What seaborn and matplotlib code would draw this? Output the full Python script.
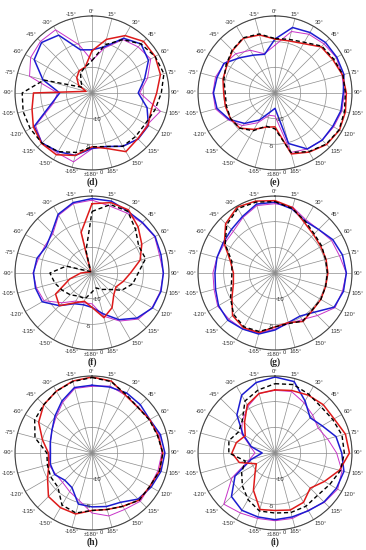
import numpy as np
import matplotlib
matplotlib.use("Agg")
import matplotlib.pyplot as plt
import seaborn as sns

sns.set_theme(style="white")
plt.rcParams['font.family'] = ['Liberation Sans', 'DejaVu Sans']

# angles every 15 deg, clockwise from top; values in dB (-15 .. 0)
angles_deg = np.arange(0, 360, 15)
tick_labels = ['0°'] + ['%d°' % a for a in range(15, 180, 15)] + ['±180°'] + \
              ['-%d°' % (360 - a) for a in range(195, 360, 15)]
r_ticks = [-10, -5, 0]

# (d)
d_black = [-8.7, -5.3, -3.0, -1.5, -0.8, -0.5, -1.5, -2.3, -3.0, -3.0, -3.0, -4.2,
           -4.5, -3.0, -1.8, -1.2, -1.1, -1.1, -1.4, -5.3, -12.8, -12.0, -10.5, -9.8]
d_red = [-6.8, -4.2, -2.1, -0.8, -0.8, -1.2, -2.4, -3.0, -2.4, -2.4, -1.8, -3.8,
         -4.5, -2.4, -1.1, -1.1, -1.8, -2.9, -3.6, -13.8, -12.0, -10.8, -10.0, -9.8]
d_blue = [-6.6, -5.7, -2.7, -1.5, -2.3, -4.4, -6.0, -3.9, -2.3, -2.3, -3.0, -4.2,
          -4.2, -2.4, -1.8, -1.2, -2.0, -6.8, -8.7, -5.1, -2.0, -1.1, -2.0, -6.3]
d_mag = [-8.7, -6.0, -3.0, -2.3, -1.8, -3.8, -5.7, -1.2, -2.6, -2.3, -3.0, -4.2,
         -4.1, -1.1, -1.5, -1.2, -2.3, -7.2, -8.3, -2.4, -1.2, -0.8, -0.8, -5.3]

# (e)
e_black = [-4.4, -4.2, -3.6, -2.1, -1.8, -1.3, -1.3, -1.0, -0.6, -0.9, -1.8, -3.0,
           -8.0, -8.3, -6.5, -5.3, -5.0, -5.2, -5.3, -4.7, -4.0, -3.2, -2.6, -3.1]
e_red = [-4.5, -4.5, -3.9, -2.3, -2.0, -1.4, -1.1, -0.8, -0.5, -0.8, -1.7, -2.7,
         -8.4, -8.1, -6.8, -5.3, -5.0, -5.0, -5.0, -4.5, -4.2, -3.3, -2.7, -3.3]
e_blue = [-4.5, -1.8, -1.4, -1.1, -1.1, -1.1, -1.7, -1.7, -2.0, -2.0, -2.4, -4.8,
          -12.0, -11.1, -8.9, -6.6, -4.7, -3.3, -3.0, -3.3, -3.5, -5.3, -6.5, -7.2]
e_mag = [-5.7, -2.6, -1.8, -1.5, -1.2, -1.5, -1.5, -1.5, -1.8, -2.0, -2.4, -3.0,
         -10.5, -10.5, -8.3, -6.0, -4.5, -3.0, -2.9, -3.0, -3.6, -4.2, -5.4, -7.1]

# (f)
f_black = [-3.0, -1.2, -1.1, -3.0, -4.5, -4.2, -6.0, -6.8, -8.3, -10.5, -11.3, -12.0,
           -11.3, -9.8, -9.8, -9.0, -8.3, -7.5, -6.8, -9.8, -14.3, -14.6, -14.3, -10.5]
f_red = [-1.5, -0.8, -0.8, -2.3, -3.8, -5.3, -7.5, -8.7, -9.6, -9.0, -7.2, -6.0,
         -8.3, -9.3, -8.3, -6.0, -6.8, -10.5, -12.8, -14.3, -14.6, -14.6, -14.3, -6.8]
f_blue = [-0.5, -0.5, -1.1, -1.1, -0.8, -1.1, -1.1, -1.1, -1.4, -2.6, -4.5, -6.8,
          -8.3, -8.6, -8.1, -6.0, -3.8, -3.6, -3.6, -3.9, -4.7, -3.9, -1.8, -0.8]
f_mag = [-0.8, -1.5, -1.5, -1.2, -0.9, -1.4, -1.1, -1.2, -1.5, -2.3, -4.2, -6.3,
         -9.0, -9.0, -8.7, -6.8, -4.2, -3.8, -3.5, -4.2, -4.4, -4.2, -2.0, -1.0]

# (g)
g_black = [-1.1, -2.0, -3.3, -4.2, -4.5, -4.8, -4.8, -4.8, -4.7, -4.8, -4.2, -4.8,
           -4.5, -3.2, -2.9, -3.6, -5.0, -6.2, -6.6, -6.3, -3.8, -1.7, -0.5, -0.7]
g_red = [-0.9, -1.8, -3.6, -4.4, -4.7, -4.7, -4.7, -4.8, -4.7, -4.7, -4.1, -5.0,
         -4.5, -3.0, -2.7, -3.3, -5.3, -6.6, -6.9, -6.0, -3.6, -1.4, -0.2, -0.5]
g_blue = [-1.2, -2.1, -3.3, -3.0, -2.0, -1.4, -1.1, -1.2, -1.7, -4.2, -5.3, -5.0,
          -3.9, -2.7, -2.4, -2.0, -2.3, -3.0, -3.3, -3.3, -3.3, -3.0, -2.3, -1.1]
g_mag = [-1.5, -1.7, -3.0, -3.0, -2.3, -2.0, -1.1, -1.4, -1.5, -3.3, -4.5, -4.8,
         -4.1, -2.9, -2.4, -2.3, -2.1, -2.7, -2.9, -3.3, -3.6, -3.5, -2.5, -1.4]

# (h)
h_black = [-0.3, -0.6, -1.8, -2.4, -2.1, -1.8, -1.2, -1.4, -2.0, -2.0, -3.0, -3.6,
           -3.8, -2.9, -3.3, -5.6, -5.7, -6.0, -6.2, -3.5, -2.1, -1.7, -1.1, -0.6]
h_red = [-0.2, -0.5, -2.0, -2.4, -2.0, -1.7, -1.2, -1.4, -2.0, -2.0, -3.0, -3.6,
         -3.8, -2.7, -2.7, -3.0, -5.0, -6.3, -6.5, -5.0, -3.0, -1.7, -1.1, -0.5]
h_blue = [-1.8, -1.7, -1.5, -1.7, -2.0, -1.2, -0.8, -1.1, -1.7, -2.3, -3.9, -4.2,
          -4.5, -4.7, -7.2, -7.5, -6.6, -6.6, -6.9, -6.6, -6.0, -4.8, -3.3, -1.8]
h_mag = [-2.0, -1.5, -2.0, -2.3, -2.0, -1.4, -1.4, -1.7, -2.0, -1.7, -2.3, -2.3,
         -3.3, -5.4, -6.3, -6.9, -6.8, -6.3, -6.8, -6.6, -6.0, -5.1, -3.6, -2.0]

# (i)
i_black = [-1.5, -1.2, -1.8, -2.3, -2.0, -1.5, -1.5, -1.8, -2.7, -3.3, -3.0, -3.0,
           -3.3, -3.3, -4.5, -6.0, -7.5, -9.0, -6.0, -5.7, -6.8, -6.0, -3.3, -2.3]
i_red = [-2.7, -2.4, -2.0, -1.7, -1.7, -0.8, -0.5, -2.0, -3.9, -5.3, -3.9, -3.5,
         -3.8, -3.6, -6.6, -9.5, -10.8, -7.8, -6.6, -7.2, -8.3, -6.6, -4.2, -3.0]
i_blue = [-0.2, -0.6, -3.3, -5.3, -4.4, -2.7, -2.0, -1.1, -1.2, -1.5, -2.0, -2.1,
          -2.0, -2.1, -2.1, -3.0, -6.0, -10.2, -12.5, -10.2, -7.8, -4.5, -2.0, -0.8]
i_mag = [-2.8, -2.6, -3.7, -4.6, -5.3, -4.4, -3.0, -1.5, -0.9, -1.4, -2.1, -1.8,
         -1.8, -1.8, -1.5, -0.9, -5.3, -9.8, -11.1, -10.0, -7.5, -6.0, -4.5, -3.0]

panels = [
    ('(d)', d_black, d_red, d_blue, d_mag),
    ('(e)', e_black, e_red, e_blue, e_mag),
    ('(f)', f_black, f_red, f_blue, f_mag),
    ('(g)', g_black, g_red, g_blue, g_mag),
    ('(h)', h_black, h_red, h_blue, h_mag),
    ('(i)', i_black, i_red, i_blue, i_mag),
]

fig = plt.figure(figsize=(3.66, 5.5), dpi=100)
lefts = [0.041, 0.541]
bottoms = [0.691, 0.3636, 0.0364]
letter_y = [0.669, 0.342, 0.0145]
w, h = 0.4208, 0.28

theta = np.deg2rad(np.append(angles_deg, 360))
# where the dB labels sit (angle, radius offset)
rlab_pos = {-10: (169, 0.2), -5: (184, 0.5), 0: (173, 0.6)}

for k, (letter, blk, red, blu, mag) in enumerate(panels):
    row, col = divmod(k, 2)
    ax = fig.add_axes([lefts[col], bottoms[row], w, h], projection='polar')
    ax.set_theta_zero_location('N')
    ax.set_theta_direction(-1)

    styles = [(mag, '#c832c8', '-', 0.7),
              (blu, '#1c1cd0', '-', 1.1),
              (red, '#dd1a1a', '-', 1.1),
              (blk, 'black', (0, (3, 2)), 1.0)]
    for vals, c, ls, lw in styles:
        r = np.append(vals, vals[0])
        sns.lineplot(x=theta, y=r, ax=ax, color=c, linestyle=ls, linewidth=lw,
                     sort=False, estimator=None)

    ax.set_ylim(-15, 0)
    ax.set_yticks(r_ticks)
    ax.set_yticklabels([])
    ax.set_xticks(np.deg2rad(angles_deg))
    ax.set_xticklabels([])
    ax.grid(True, color='#8c8c8c', linewidth=0.5)
    ax.spines['polar'].set_color('#444444')
    ax.spines['polar'].set_linewidth(0.8)
    ax.set_xlabel('')
    ax.set_ylabel('')
    ax.set_facecolor('white')

    # angle labels just outside the rim
    for a, lab in zip(angles_deg, tick_labels):
        s, c = np.sin(np.deg2rad(a)), np.cos(np.deg2rad(a))
        ha = 'left' if s > 0.3 else ('right' if s < -0.3 else 'center')
        va = 'bottom' if c > 0.3 else ('top' if c < -0.3 else 'center')
        ax.text(np.deg2rad(a), 0.35, lab, ha=ha, va=va, fontsize=4.2,
                color='#333333', clip_on=False)
    # dB labels near the bottom spoke
    for rt in r_ticks:
        ang, off = rlab_pos[rt]
        ax.text(np.deg2rad(ang), rt + off, '%d' % rt, ha='center', va='center',
                fontsize=4.2, color='#333333', clip_on=False)

    fig.text(lefts[col] + w / 2, letter_y[row], letter, ha='center', va='center',
             fontsize=7, family='Liberation Serif', weight='bold')

fig.savefig('out.png', dpi=100)
